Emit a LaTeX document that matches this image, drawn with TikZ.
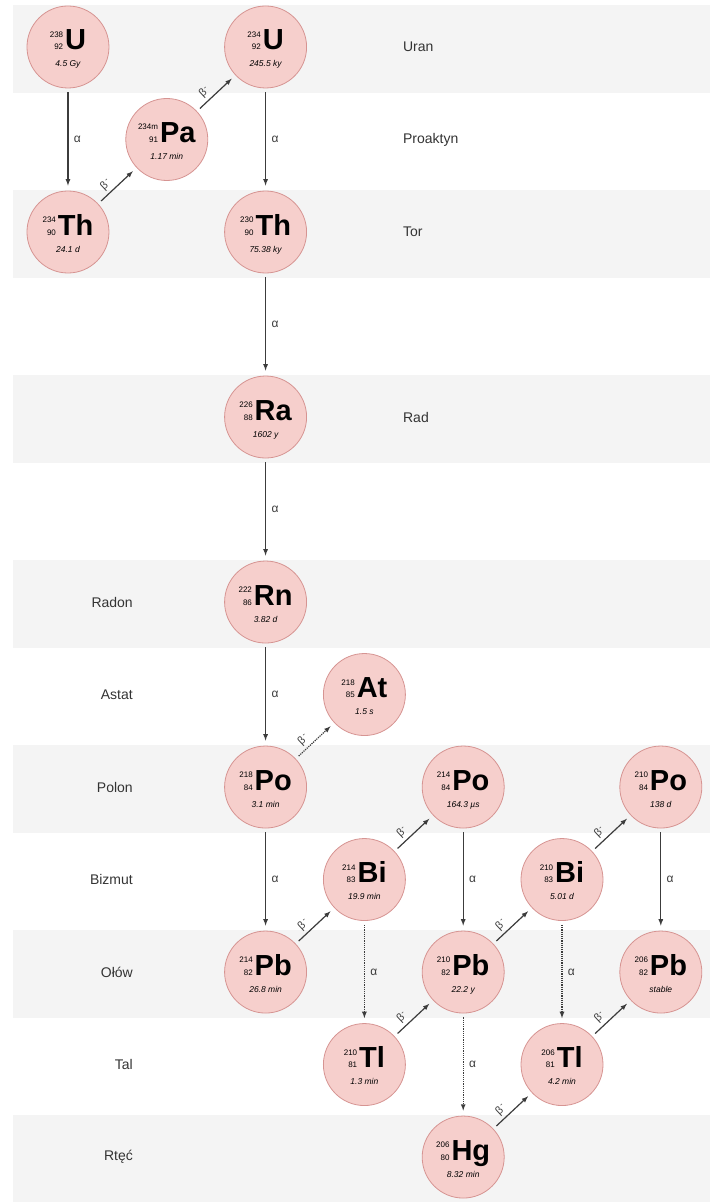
\documentclass[tikz,border=0pt]{standalone}
\usepackage{fontspec}
\setmainfont{Liberation Sans}
\usetikzlibrary{arrows, positioning}

\definecolor{bandgray}{RGB}{244,244,244}
\definecolor{nucfill}{RGB}{246,207,204}
\definecolor{nucdraw}{RGB}{214,148,146}
\definecolor{decayline}{RGB}{60,60,60}
\definecolor{nametext}{RGB}{51,51,51}

% mass number over atomic number
\newcommand{\numstack}[2]{{\fontsize{8}{12.5}\selectfont\mdseries\begin{tabular}[b]{@{}r@{}}#1\\#2\end{tabular}}}
% name, position, mass, Z, symbol, half-life
\newcommand{\nuclide}[6]{%
	\node[nucleus] (#1) at (#2) {};
	\node[symtext] (#1-sym) at ([yshift=-3pt]#1.center) {\numstack{#3}{#4}\hspace{2pt}#5};
	\node[halftime] (#1-t) at ([yshift=-20pt]#1.center) {#6};
}
\newcommand{\betam}{β\kern0.6pt\raisebox{3.5pt}{\fontsize{8}{9}\selectfont -}}

\begin{document}
\begin{tikzpicture}[x=98.8pt, y=-92.5pt, >=latex,
	nucleus/.style={circle, minimum size=82pt, inner sep=0pt, fill=nucfill, draw=nucdraw, line width=0.8pt},
	symtext/.style={anchor=base, inner sep=0pt, font=\fontsize{29}{30}\selectfont\bfseries},
	halftime/.style={anchor=base, inner sep=0pt, font=\fontsize{8.5}{9}\selectfont\itshape},
	elemname/.style={text=nametext, inner sep=0pt, font=\fontsize{14}{16}\selectfont},
	decay/.style={->, draw=decayline, line width=1.2pt, shorten <=4pt, shorten >=5pt},
	weak/.style={decay, densely dotted},
	alabel/.style={midway, right=2pt, text=decayline, font=\fontsize{12}{13}\selectfont},
	blabel/.style={pos=0.35, above=3pt, sloped, inner sep=0pt, text=decayline, font=\fontsize{11}{12}\selectfont}]
\useasboundingbox (-0.688,-0.508) rectangle (6.498,12.486);

% background bands
\foreach \k in {0,...,6}
	\fill[bandgray] (-0.557,2*\k-0.454) rectangle (6.498,{min(2*\k+0.497,12.486)});

% element names
\foreach \r/\name in {0/Uran, 1/Proaktyn, 2/Tor, 4/Rad}
	\node[elemname, anchor=west] (name-\r) at (3.39,\r) {\name};
\foreach \r/\name in {6/Radon, 7/Astat, 8/Polon, 9/Bizmut, 10/Ołów, 11/Tal, 12/Rtęć}
	\node[elemname, anchor=east] (name-\r) at (0.658,\r) {\name};

% nuclides
\nuclide{u238}{0,0}{238}{92}{U}{4.5 Gy}
\nuclide{pa234}{1,1}{234m}{91}{Pa}{1.17 min}
\nuclide{u234}{2,0}{234}{92}{U}{245.5 ky}
\nuclide{th234}{0,2}{234}{90}{Th}{24.1 d}
\nuclide{th230}{2,2}{230}{90}{Th}{75.38 ky}
\nuclide{ra226}{2,4}{226}{88}{Ra}{1602 y}
\nuclide{rn222}{2,6}{222}{86}{Rn}{3.82 d}
\nuclide{at218}{3,7}{218}{85}{At}{1.5 s}
\nuclide{po218}{2,8}{218}{84}{Po}{3.1 min}
\nuclide{po214}{4,8}{214}{84}{Po}{164.3 µs}
\nuclide{po210}{6,8}{210}{84}{Po}{138 d}
\nuclide{bi214}{3,9}{214}{83}{Bi}{19.9 min}
\nuclide{bi210}{5,9}{210}{83}{Bi}{5.01 d}
\nuclide{pb214}{2,10}{214}{82}{Pb}{26.8 min}
\nuclide{pb210}{4,10}{210}{82}{Pb}{22.2 y}
\nuclide{pb206}{6,10}{206}{82}{Pb}{stable}
\nuclide{tl210}{3,11}{210}{81}{Tl}{1.3 min}
\nuclide{tl206}{5,11}{206}{81}{Tl}{4.2 min}
\nuclide{hg206}{4,12}{206}{80}{Hg}{8.32 min}

% alpha decays
\draw[decay] (u238) -- (th234) node[alabel] {α};
\draw[decay] (u234) -- (th230) node[alabel] {α};
\draw[decay] (th230) -- (ra226) node[alabel] {α};
\draw[decay] (ra226) -- (rn222) node[alabel] {α};
\draw[decay] (rn222) -- (po218) node[alabel] {α};
\draw[decay] (po218) -- (pb214) node[alabel] {α};
\draw[decay] (po214) -- (pb210) node[alabel] {α};
\draw[decay] (po210) -- (pb206) node[alabel] {α};
\draw[weak] (bi214) -- (tl210) node[alabel] {α};
\draw[weak] (pb210) -- (hg206) node[alabel] {α};
\draw[weak] (bi210) -- (tl206) node[alabel] {α};

% beta decays
\draw[decay] (th234) -- (pa234) node[blabel] {\betam};
\draw[decay] (pa234) -- (u234) node[blabel] {\betam};
\draw[weak] (po218) -- (at218) node[blabel] {\betam};
\draw[decay] (pb214) -- (bi214) node[blabel] {\betam};
\draw[decay] (bi214) -- (po214) node[blabel] {\betam};
\draw[decay] (tl210) -- (pb210) node[blabel] {\betam};
\draw[decay] (pb210) -- (bi210) node[blabel] {\betam};
\draw[decay] (bi210) -- (po210) node[blabel] {\betam};
\draw[decay] (hg206) -- (tl206) node[blabel] {\betam};
\draw[decay] (tl206) -- (pb206) node[blabel] {\betam};
\end{tikzpicture}
\end{document}
